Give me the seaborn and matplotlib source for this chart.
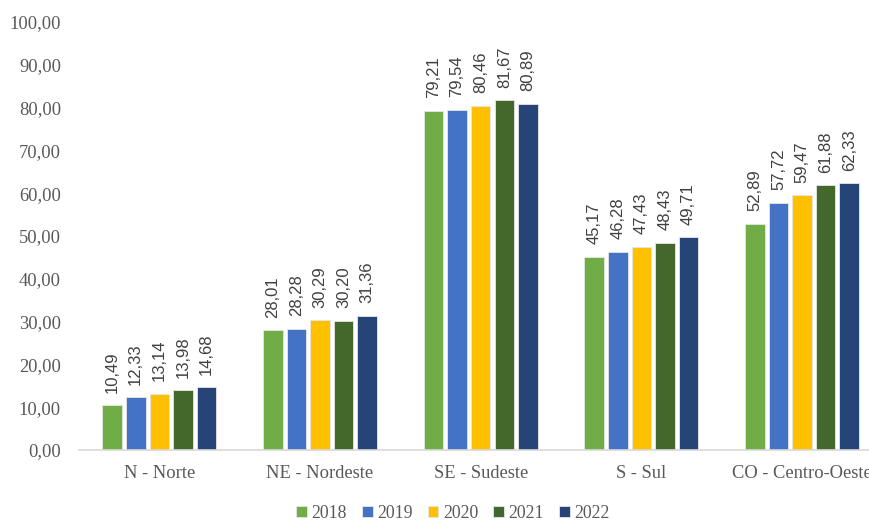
import pandas as pd
import numpy as np
import matplotlib.pyplot as plt
import seaborn as sns

regioes = ["N - Norte", "NE - Nordeste", "SE - Sudeste", "S - Sul", "CO - Centro-Oeste"]
anos = ["2018", "2019", "2020", "2021", "2022"]
v2018 = [10.49, 28.01, 79.21, 45.17, 52.89]
v2019 = [12.33, 28.28, 79.54, 46.28, 57.72]
v2020 = [13.14, 30.29, 80.46, 47.43, 59.47]
v2021 = [13.98, 30.20, 81.67, 48.43, 61.88]
v2022 = [14.68, 31.36, 80.89, 49.71, 62.33]
cores = ["#70AD47", "#4472C4", "#FFC000", "#43682B", "#264478"]

valores = [v2018, v2019, v2020, v2021, v2022]
df = pd.DataFrame({
    "regiao": regioes * len(anos),
    "ano": [a for a in anos for _ in regioes],
    "valor": [v for serie in valores for v in serie],
})

sns.set_theme(style="white")
plt.rcParams["font.family"] = ["Liberation Serif", "DejaVu Serif"]

fig = plt.figure(figsize=(8.7, 5.22), dpi=100)
# area dos eixos em pixels: x de 79 a 870, y de 22 a 450
ax = fig.add_axes([79 / 870, 72 / 522, 791 / 870, 428 / 522])

sns.barplot(data=df, x="regiao", y="valor", hue="ano", palette=cores,
            saturation=1, width=0.735, gap=0.17, edgecolor="#e6e6e6",
            linewidth=0.6, ax=ax, legend=True)

for cont in ax.containers:
    labels = [f"{b.get_height():.2f}".replace(".", ",") for b in cont]
    ax.bar_label(cont, labels=labels, rotation=90, padding=9,
                 fontsize=12, color="#404040", family="Liberation Sans")

ax.set_ylim(0, 100)
ticks = np.arange(0, 101, 10)
ax.set_yticks(ticks)
ax.set_yticklabels([f"{t:.2f}".replace(".", ",") for t in ticks])
ax.set_xlim(-0.5, 4.423)
ax.set_xlabel("")
ax.set_ylabel("")
ax.tick_params(axis="both", labelsize=13.3, colors="#595959", length=0)
ax.tick_params(axis="x", pad=11)
ax.tick_params(axis="y", pad=13)
for s in ["top", "right", "left"]:
    ax.spines[s].set_visible(False)
ax.spines["bottom"].set_color("#d9d9d9")
ax.spines["bottom"].set_linewidth(1.2)

h, l = ax.get_legend_handles_labels()
ax.legend(h, l, loc="center", bbox_to_anchor=((453 - 79) / 791, -63 / 428),
          ncol=5, frameon=False, fontsize=12.8, handlelength=0.6, handleheight=0.6,
          handletextpad=0.25, columnspacing=0.85, labelcolor="#595959")

fig.savefig("out.png", dpi=100)
